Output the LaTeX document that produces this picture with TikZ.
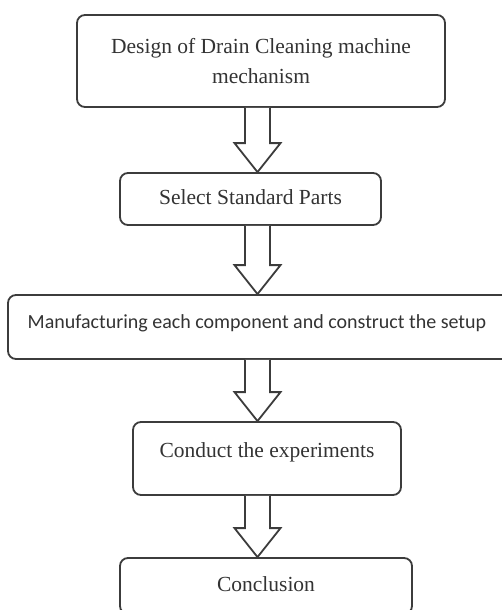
\documentclass[tikz,border=0pt]{standalone}
\usepackage{fontspec}
\setmainfont{Liberation Serif}
\newfontfamily\calibrifont{Carlito}
\usepackage{tikz}
\usepackage{xcolor}
\usetikzlibrary{calc}
\definecolor{box_line}{HTML}{3C3C3C}
\definecolor{box_text}{HTML}{333333}

% hollow block arrow from the bottom of #1 to the top of #2
\newcommand{\hollowarrow}[2]{%
    \draw[fatarrow] ($(#1.south -| axis)+(-12.5,0)$)
        -- ($(#2.north -| axis)+(-12.5,-29)$)
        -- ($(#2.north -| axis)+(-23,-29)$)
        -- (#2.north -| axis)
        -- ($(#2.north -| axis)+(23,-29)$)
        -- ($(#2.north -| axis)+(12.5,-29)$)
        -- ($(#1.south -| axis)+(12.5,0)$);
}

\begin{document}
\begin{tikzpicture}[x=1pt, y=-1pt,
    stepbox/.style={draw=box_line, line width=1.8pt, rounded corners=8pt,
        fill=white, text=box_text, align=center, inner sep=0pt},
    lift/.style={text height=15pt, text depth=#1},
    fatarrow/.style={draw=box_line, line width=1.8pt, fill=white, line join=miter}]
    \useasboundingbox (0,0) rectangle (501,610);

    % column of the arrows
    \coordinate (axis) at (257.5,0);

    % Steps of the work
    \node[stepbox, minimum width=368pt, minimum height=92pt,
        font=\fontsize{21.5}{30}\selectfont] (design) at (261,61)
        {Design of Drain Cleaning machine\\mechanism};
    \node[stepbox, minimum width=261pt, minimum height=52pt, lift=4pt,
        font=\fontsize{21.5}{26}\selectfont] (parts) at (250.5,199)
        {Select Standard Parts};
    \node[stepbox, minimum width=504pt, minimum height=64pt, lift=13pt,
        font=\calibrifont\fontsize{20}{24}\selectfont] (manuf) at (260,327)
        {\hspace*{-6pt}Manufacturing each component and construct the setup};
    \node[stepbox, minimum width=268pt, minimum height=73pt, lift=18pt,
        font=\fontsize{21.5}{26}\selectfont] (experim) at (267,458.5)
        {Conduct the experiments};
    \node[stepbox, minimum width=292pt, minimum height=56pt, lift=4pt,
        font=\fontsize{21.5}{26}\selectfont] (concl) at (266,586)
        {Conclusion};

    % Arrows between the steps
    \hollowarrow{design}{parts}
    \hollowarrow{parts}{manuf}
    \hollowarrow{manuf}{experim}
    \hollowarrow{experim}{concl}
\end{tikzpicture}
\end{document}
